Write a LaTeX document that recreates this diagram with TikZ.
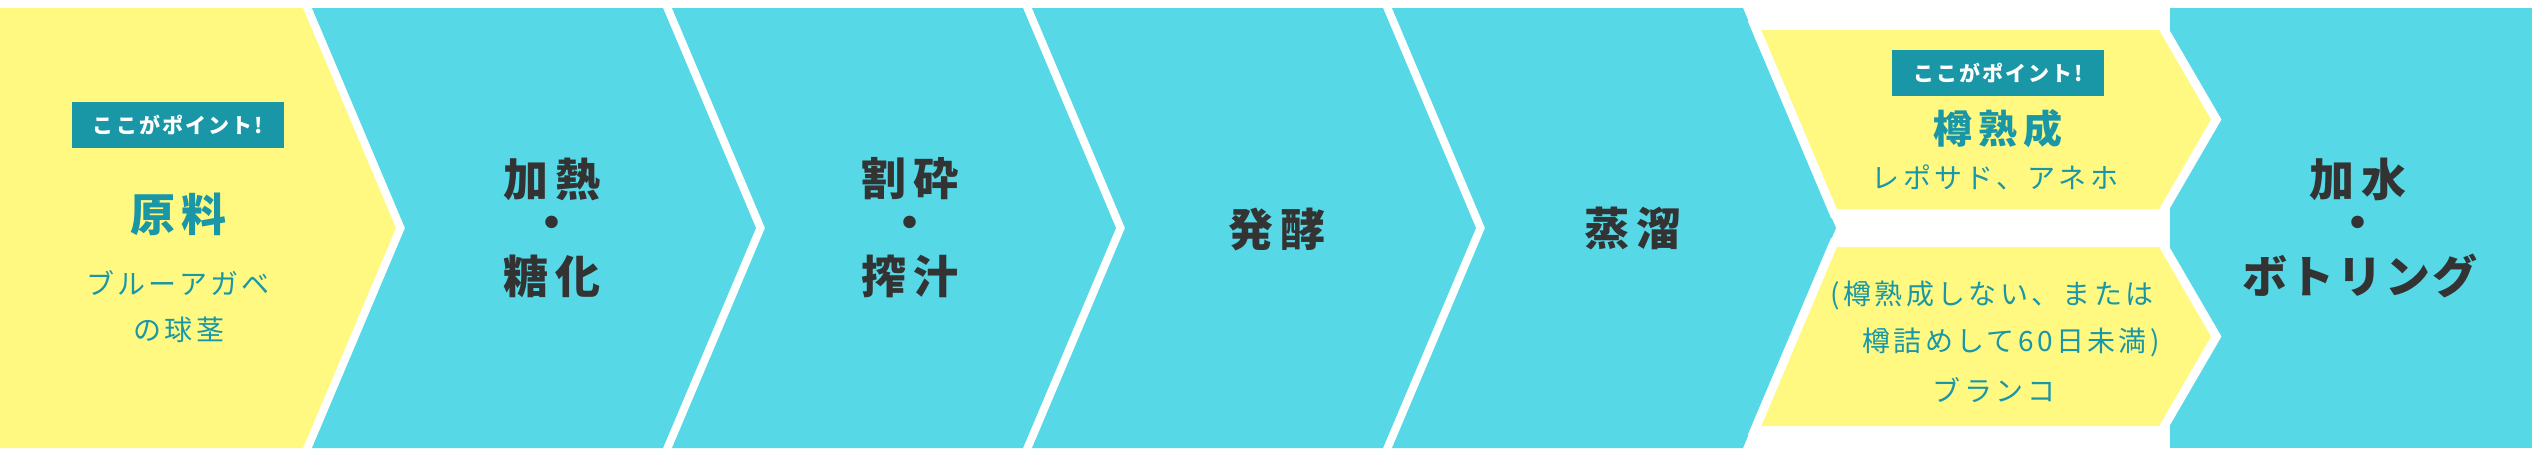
\documentclass[tikz,border=0pt]{standalone}
\usepackage{fontspec}
\newfontfamily\jpmain{Noto Sans CJK JP}[LetterSpace=15]
\newfontfamily\jpkana{Noto Sans CJK JP}[LetterSpace=6]
\newfontfamily\jpsub{Noto Sans CJK JP}[LetterSpace=12]
\newfontfamily\jplab{Noto Sans CJK JP}[LetterSpace=10]
\definecolor{cyanbg}{HTML}{56D8E6}
\definecolor{yellowbg}{HTML}{FFF982}
\definecolor{teal}{HTML}{1A97A7}
\definecolor{darktext}{HTML}{333333}
\tikzset{
  cyanshape/.style={fill=cyanbg},
  yellowshape/.style={fill=yellowbg},
  whiteedge/.style={draw=white,line width=18pt,line join=miter},
  mainlabel/.style={inner sep=0pt,text=darktext,font=\jpmain\bfseries\fontsize{45}{54}\selectfont},
  mainkana/.style={inner sep=0pt,text=darktext,font=\jpkana\bfseries\fontsize{45}{54}\selectfont},
  keylabel/.style={inner sep=0pt,text=teal,font=\jpmain\bfseries\fontsize{45}{54}\selectfont},
  keylabelsmall/.style={inner sep=0pt,text=teal,font=\jpmain\bfseries\fontsize{39}{46}\selectfont},
  sublabel/.style={inner sep=0pt,text=teal,font=\jpsub\fontsize{28}{34}\selectfont},
  pointbox/.style={fill=teal,text=white,inner sep=0pt,minimum width=212pt,minimum height=46pt,
    font=\jplab\bfseries\fontsize{21}{25}\selectfont}
}
\begin{document}
\begin{tikzpicture}[x=1pt,y=-1pt]
\useasboundingbox (0,0) rectangle (2540,456);
\fill[white] (0,0) rectangle (2540,456);
% stage 0 (yellow)
\path[yellowshape] (0,8) -- (303,8) -- (396,228) -- (303,448) -- (0,448) -- cycle;
% stages 1-4 (cyan chevrons)
\foreach \i in {1,...,4}{
  \path[cyanshape] ({312+360*(\i-1)},8) -- ({303+360*\i},8) -- ({396+360*\i},228)
    -- ({303+360*\i},448) -- ({312+360*(\i-1)},448) -- ({405+360*(\i-1)},228) -- cycle;
}
% last box
\path[cyanshape] (2170,8) rectangle (2532,448);
% stage 5 split (yellow)
\path[whiteedge] (1761.3,30) -- (2159,30) -- (2211,119.5) -- (2159,209) -- (1837,209) -- cycle;
\path[whiteedge] (1837,247) -- (2159,247) -- (2211,336.5) -- (2159,426) -- (1761.3,426) -- cycle;
\path[yellowshape] (1761.3,30) -- (2159,30) -- (2211,119.5) -- (2159,209) -- (1837,209) -- cycle;
\path[yellowshape] (1837,247) -- (2159,247) -- (2211,336.5) -- (2159,426) -- (1761.3,426) -- cycle;

% texts stage 0
\node[pointbox] (p0) at (178,125) {ここがポイント!};
\node[keylabel] (s0a) at (178.5,214) {原料};
\node[sublabel] (s0b) at (178,283) {ブルーアガベ};
\node[sublabel] (s0c) at (179,330) {の球茎};
% stage 1
\node[mainlabel] (s1a) at (552,179) {加熱};
\node[mainlabel] (s1b) at (552,228) {・};
\node[mainlabel] (s1c) at (552,276) {糖化};
% stage 2
\node[mainlabel] (s2a) at (910,179) {割砕};
\node[mainlabel] (s2b) at (910,228) {・};
\node[mainlabel] (s2c) at (910,276) {搾汁};
% stage 3
\node[mainlabel] (s3a) at (1277,229) {発酵};
% stage 4
\node[mainlabel] (s4a) at (1633,228) {蒸溜};
% stage 5 upper
\node[pointbox] (p5) at (1998,73) {ここがポイント!};
\node[keylabelsmall] (s5a) at (1998,129) {樽熟成};
\node[sublabel] (s5b) at (1995,177) {レポサド、アネホ};
% stage 5 lower
\node[sublabel] (s5c) at (1992,295) {(樽熟成しない、または};
\node[sublabel] (s5d) at (2011,342) {樽詰めして60日未満)};
\node[sublabel] (s5e) at (1994,390) {ブランコ};
% last
\node[mainlabel] (s6a) at (2358,179) {加水};
\node[mainlabel] (s6b) at (2358,228) {・};
\node[mainkana] (s6c) at (2360,276) {ボトリング};
\end{tikzpicture}
\end{document}
